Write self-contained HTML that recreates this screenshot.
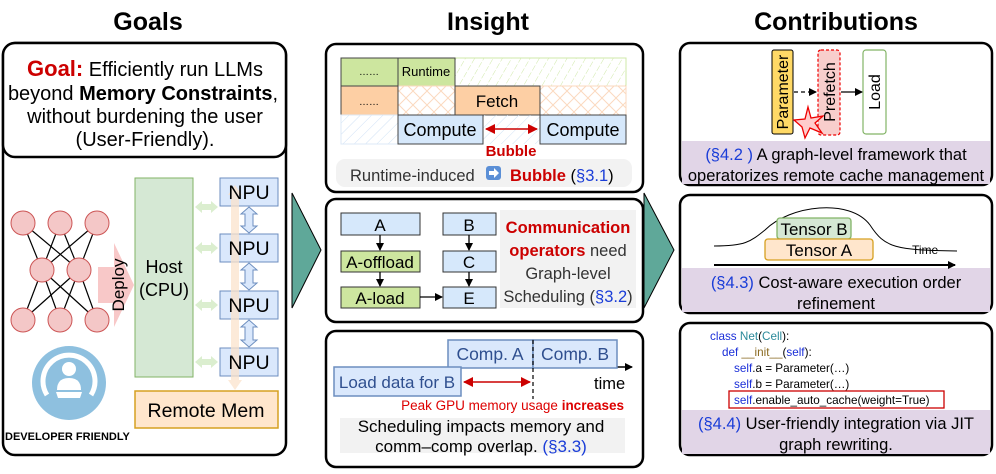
<!DOCTYPE html>
<html><head><meta charset="utf-8"><style>
body{margin:0;background:#fff}
svg{display:block}
text{font-family:"Liberation Sans",sans-serif}
</style></head><body>
<svg width="996" height="474" viewBox="0 0 996 474" xmlns="http://www.w3.org/2000/svg">
<defs>
<marker id="ab" markerWidth="8" markerHeight="8" refX="7" refY="4" orient="auto" markerUnits="userSpaceOnUse"><path d="M0,0 L8,4 L0,8 Z" fill="#000"/></marker>
<marker id="ar" markerWidth="10" markerHeight="10" refX="9" refY="5" orient="auto" markerUnits="userSpaceOnUse"><path d="M0,0 L10,5 L0,10 Z" fill="#c00"/></marker>
<marker id="arl" markerWidth="10" markerHeight="10" refX="1" refY="5" orient="auto" markerUnits="userSpaceOnUse"><path d="M10,0 L0,5 L10,10 Z" fill="#c00"/></marker>
<pattern id="hg" width="8" height="8" patternUnits="userSpaceOnUse" patternTransform="rotate(30)"><line x1="0" y1="0" x2="0" y2="8" stroke="#cfe8a8" stroke-width="1" stroke-dasharray="3,2"/></pattern>
<pattern id="ho" width="14" height="14" patternUnits="userSpaceOnUse"><path d="M0,0 L14,14 M14,0 L0,14" stroke="#fbd9bf" stroke-width="1"/></pattern>
<pattern id="hb" width="8" height="8" patternUnits="userSpaceOnUse" patternTransform="rotate(45)"><line x1="0" y1="0" x2="0" y2="8" stroke="#cfe2f5" stroke-width="1"/></pattern>
</defs>

<text x="148" y="30" font-size="25" font-weight="bold" text-anchor="middle">Goals</text>
<text x="488" y="30" font-size="25" font-weight="bold" text-anchor="middle">Insight</text>
<text x="836" y="30" font-size="25" font-weight="bold" text-anchor="middle">Contributions</text>

<rect x="3" y="43" width="283" height="412" rx="12" fill="#fff" stroke="#000" stroke-width="2.5"/>
<rect x="3" y="43" width="283" height="114" rx="12" fill="#fff" stroke="#000" stroke-width="2.5"/>
<text x="145" y="76" font-size="20" text-anchor="middle"><tspan fill="#c00" font-weight="bold" font-size="22">Goal:</tspan> Efficiently run LLMs</text>
<text x="143" y="100" font-size="20" text-anchor="middle">beyond <tspan font-weight="bold">Memory Constraints</tspan>,</text>
<text x="145" y="123" font-size="20" text-anchor="middle">without burdening the user</text>
<text x="145" y="146" font-size="20" text-anchor="middle">(User-Friendly).</text>

<g stroke="#000" stroke-width="1.2">
<line x1="23" y1="223" x2="42" y2="270"/><line x1="23" y1="223" x2="79" y2="270"/>
<line x1="60" y1="223" x2="42" y2="270"/><line x1="60" y1="223" x2="79" y2="270"/>
<line x1="97" y1="223" x2="42" y2="270"/><line x1="97" y1="223" x2="79" y2="270"/>
<line x1="23" y1="320" x2="42" y2="270"/><line x1="23" y1="320" x2="79" y2="270"/>
<line x1="60" y1="320" x2="42" y2="270"/><line x1="60" y1="320" x2="79" y2="270"/>
<line x1="97" y1="320" x2="42" y2="270"/><line x1="97" y1="320" x2="79" y2="270"/>
</g>
<g fill="#f4c7c7" stroke="#c55" stroke-width="1">
<circle cx="23" cy="223" r="12"/><circle cx="60" cy="223" r="12"/><circle cx="97" cy="223" r="12"/>
<circle cx="42" cy="270" r="12"/><circle cx="79" cy="270" r="12"/>
<circle cx="23" cy="320" r="12"/><circle cx="60" cy="320" r="12"/><circle cx="97" cy="320" r="12"/>
</g>
<path d="M98,267 L114,267 L114,243 L134,285 L114,327 L114,303 L98,303 Z" fill="#f8c8c8"/>
<text transform="translate(124,285) rotate(-90)" font-size="17" text-anchor="middle">Deploy</text>

<rect x="135" y="178" width="58" height="199" fill="#d5e8d4" stroke="#82b366"/>
<text x="164" y="273" font-size="18" text-anchor="middle">Host</text>
<text x="164" y="296" font-size="18" text-anchor="middle">(CPU)</text>

<g fill="#dbeecf">
<path d="M195,207 L202,201 L202,204 L211,204 L211,201 L218,207 L211,213 L211,210 L202,210 L202,213 Z"/>
<path d="M195,248 L202,242 L202,245 L211,245 L211,242 L218,248 L211,254 L211,251 L202,251 L202,254 Z"/>
<path d="M195,305 L202,299 L202,302 L211,302 L211,299 L218,305 L211,311 L211,308 L202,308 L202,311 Z"/>
<path d="M195,362 L202,356 L202,359 L211,359 L211,356 L218,362 L211,368 L211,365 L202,365 L202,368 Z"/>
</g>
<g fill="#dae8fc" stroke="#6c8ebf">
<rect x="220" y="178" width="58" height="28"/>
<rect x="220" y="234" width="58" height="28"/>
<rect x="220" y="291" width="58" height="28"/>
<rect x="220" y="348" width="58" height="28"/>
<path d="M249,207 L257,214 L253,214 L253,226 L257,226 L249,233 L241,226 L245,226 L245,214 L241,214 Z"/>
<path d="M249,263 L257,270 L253,270 L253,283 L257,283 L249,290 L241,283 L245,283 L245,270 L241,270 Z"/>
<path d="M249,320 L257,327 L253,327 L253,340 L257,340 L249,347 L241,340 L245,340 L245,327 L241,327 Z"/>
</g>
<path d="M235,185 L242,195 L239,195 L239,380 L242,380 L235,390 L228,380 L231,380 L231,195 L228,195 Z" fill="#fbe3cc" opacity="0.75"/>
<g font-size="19.5" text-anchor="middle">
<text x="249" y="199">NPU</text><text x="249" y="255">NPU</text><text x="249" y="312">NPU</text><text x="249" y="369">NPU</text>
</g>
<rect x="135" y="391" width="143" height="37" fill="#ffe6cc" stroke="#d6a020" stroke-width="1.5"/>
<text x="206" y="417" font-size="19.5" text-anchor="middle">Remote Mem</text>

<circle cx="69" cy="383" r="37" fill="#8ec0df"/>
<path d="M47,395 A26,26 0 1 1 91,395" fill="none" stroke="#fff" stroke-width="5"/>
<circle cx="69" cy="369" r="7" fill="#fff"/>
<path d="M57,390 Q57,378 69,378 Q81,378 81,390 Z" fill="#fff"/>
<path d="M56,392 L82,392 L80,398 L58,398 Z" fill="#fff"/>
<text x="5" y="440" font-size="11" font-weight="bold">DEVELOPER FRIENDLY</text>

<path d="M292,193 L321,250 L292,308 Z" fill="#5fa899" stroke="#000" stroke-width="1"/>
<path d="M644,193 L674,250 L644,308 Z" fill="#5fa899" stroke="#000" stroke-width="1"/>

<rect x="326" y="44" width="317" height="148" rx="10" fill="#fff" stroke="#000" stroke-width="2.5"/>
<rect x="455" y="58" width="171" height="28" fill="url(#hg)" stroke="#cfe8a8"/>
<rect x="341" y="58" width="57" height="28" fill="#cde69f" stroke="#444"/>
<rect x="398" y="58" width="57" height="28" fill="#cde69f" stroke="#444"/>
<text x="369" y="75" font-size="10" text-anchor="middle">……</text>
<text x="426" y="76" font-size="13" text-anchor="middle">Runtime</text>
<rect x="398" y="86" width="57" height="29" fill="url(#ho)" stroke="#fbd9bf"/>
<rect x="540" y="86" width="86" height="29" fill="url(#ho)" stroke="#fbd9bf"/>
<rect x="341" y="86" width="57" height="29" fill="#fdcfa4" stroke="#444"/>
<rect x="455" y="86" width="85" height="29" fill="#fdcfa4" stroke="#444"/>
<text x="369" y="105" font-size="10" text-anchor="middle">……</text>
<text x="497" y="107" font-size="17" text-anchor="middle">Fetch</text>
<rect x="341" y="115" width="57" height="29" fill="url(#hb)" stroke="#dde9f7"/>
<rect x="483" y="115" width="57" height="29" fill="url(#hb)" stroke="none"/>
<rect x="398" y="115" width="85" height="29" fill="#d6e8fb" stroke="#444"/>
<rect x="540" y="115" width="86" height="29" fill="#d6e8fb" stroke="#444"/>
<text x="440" y="136" font-size="18" text-anchor="middle">Compute</text>
<text x="583" y="136" font-size="18" text-anchor="middle">Compute</text>
<line x1="486" y1="129" x2="537" y2="129" stroke="#c00" stroke-width="1.5" marker-end="url(#ar)" marker-start="url(#arl)"/>
<text x="511" y="156" font-size="15" font-weight="bold" fill="#c00" text-anchor="middle">Bubble</text>
<rect x="336" y="159" width="296" height="28" rx="9" fill="#f2f2f2"/>
<text x="350" y="181" font-size="16.5" fill="#333">Runtime-induced</text>
<rect x="486" y="166" width="15" height="14" rx="3" fill="#5b8fd6"/>
<path d="M489,171 L494,171 L494,168 L499,173 L494,178 L494,175 L489,175 Z" fill="#fff"/>
<text x="510" y="181" font-size="16.5"><tspan fill="#c00" font-weight="bold">Bubble</tspan> (<tspan fill="#1a3dd8">§3.1</tspan>)</text>

<rect x="326" y="199" width="317" height="123" rx="10" fill="#fff" stroke="#000" stroke-width="2.5"/>
<rect x="500" y="210" width="136" height="98" fill="#f2f2f2"/>
<g stroke="#333">
<rect x="341" y="213" width="79" height="22" fill="#d6e8fb"/>
<rect x="341" y="251" width="79" height="21" fill="#cde69f"/>
<rect x="341" y="287" width="79" height="21" fill="#cde69f"/>
<rect x="443" y="213" width="53" height="22" fill="#d6e8fb"/>
<rect x="443" y="251" width="53" height="21" fill="#d6e8fb"/>
<rect x="443" y="287" width="53" height="21" fill="#d6e8fb"/>
</g>
<g font-size="17" text-anchor="middle">
<text x="380" y="231">A</text><text x="380" y="268">A-offload</text><text x="380" y="304">A-load</text>
<text x="469" y="231">B</text><text x="469" y="268">C</text><text x="469" y="304">E</text>
</g>
<g stroke="#000" stroke-width="1.3" marker-end="url(#ab)">
<line x1="380" y1="235" x2="380" y2="250"/><line x1="380" y1="272" x2="380" y2="286"/>
<line x1="469" y1="235" x2="469" y2="250"/><line x1="469" y1="272" x2="469" y2="286"/>
<line x1="420" y1="297" x2="442" y2="297"/>
</g>
<text x="568" y="233" font-size="16.5" font-weight="bold" fill="#c00" text-anchor="middle">Communication</text>
<text x="568" y="256" font-size="16.5" text-anchor="middle" fill="#333"><tspan fill="#c00" font-weight="bold">operators</tspan> need</text>
<text x="568" y="279" font-size="16.5" text-anchor="middle" fill="#333">Graph-level</text>
<text x="568" y="302" font-size="16.5" text-anchor="middle" fill="#333">Scheduling (<tspan fill="#1a3dd8">§3.2</tspan>)</text>

<rect x="326" y="331" width="317" height="136" rx="10" fill="#fff" stroke="#000" stroke-width="2.5"/>
<line x1="617" y1="367" x2="632" y2="367" stroke="#000" stroke-width="1.5" marker-end="url(#ab)"/>
<rect x="448" y="340" width="85" height="28" fill="#dae8fc" stroke="#6c8ebf" stroke-width="1.5"/>
<rect x="533" y="340" width="84" height="28" fill="#dae8fc" stroke="#6c8ebf" stroke-width="1.5"/>
<rect x="334" y="367" width="127" height="29" fill="#dae8fc" stroke="#6c8ebf" stroke-width="1.5"/>
<text x="490" y="360" font-size="17.5" fill="#2f4f8f" text-anchor="middle">Comp. A</text>
<text x="575" y="360" font-size="17.5" fill="#2f4f8f" text-anchor="middle">Comp. B</text>
<text x="397" y="388" font-size="17" fill="#2f4f8f" text-anchor="middle">Load data for B</text>
<line x1="533" y1="340" x2="533" y2="399" stroke="#000" stroke-width="1.2" stroke-dasharray="4,3"/>
<line x1="464" y1="382" x2="530" y2="382" stroke="#c00" stroke-width="1.5" marker-end="url(#ar)" marker-start="url(#arl)"/>
<text x="594" y="389" font-size="16.5">time</text>
<text x="624" y="410" font-size="13.5" fill="#d00" text-anchor="end">Peak GPU memory usage <tspan font-weight="bold">increases</tspan></text>
<rect x="340" y="418" width="285" height="35" fill="#f2f2f2"/>
<text x="481" y="432" font-size="17" text-anchor="middle">Scheduling impacts memory and</text>
<text x="481" y="452" font-size="17" text-anchor="middle">comm–comp overlap. <tspan fill="#1a3dd8">(§3.3)</tspan></text>

<rect x="680" y="43" width="312" height="142" rx="10" fill="#fff" stroke="#000" stroke-width="2.5"/>
<rect x="682" y="141" width="308" height="43" fill="#e1d5e7"/>
<rect x="772" y="50" width="21" height="84" rx="2" fill="#ffd966" stroke="#000"/>
<rect x="818" y="50" width="22" height="85" rx="3" fill="#f8cecc" stroke="#e00" stroke-dasharray="3,2" stroke-width="1.2"/>
<rect x="863" y="50" width="23" height="84" rx="3" fill="#fff" stroke="#82b366" stroke-width="1.2"/>
<line x1="794" y1="92" x2="816" y2="92" stroke="#000" stroke-width="1.3" stroke-dasharray="4,3" marker-end="url(#ab)"/>
<line x1="841" y1="92" x2="862" y2="92" stroke="#000" stroke-width="1.3" marker-end="url(#ab)"/>
<path d="M808,107 L811,118 L823,116 L815,123 L822,133 L810,128 L805,138 L802,127 L794,120 L805,119 Z" fill="#fcc" stroke="#e00" stroke-width="1.3"/>
<text transform="translate(788,92) rotate(-90)" font-size="16" text-anchor="middle">Parameter</text>
<text transform="translate(835,92) rotate(-90)" font-size="16" text-anchor="middle">Prefetch</text>
<text transform="translate(880,92) rotate(-90)" font-size="16" text-anchor="middle">Load</text>
<text x="836" y="160" font-size="16.5" text-anchor="middle"><tspan fill="#1a3dd8">(§4.2 )</tspan> A graph-level framework that</text>
<text x="836" y="181" font-size="16.5" text-anchor="middle">operatorizes remote cache management</text>

<rect x="680" y="195" width="312" height="118" rx="10" fill="#fff" stroke="#000" stroke-width="2.5"/>
<rect x="682" y="268" width="308" height="44" fill="#e1d5e7"/>
<path d="M714,246 C745,246 750,242 765,230 C790,205 850,198 870,225 C885,248 895,250 957,251" fill="none" stroke="#000" stroke-width="1"/>
<rect x="777" y="218" width="74" height="21" rx="3" fill="#d5e8d4" stroke="#82b366" stroke-width="1.3"/>
<rect x="765" y="239" width="108" height="21" rx="3" fill="#ffe6cc" stroke="#d6a020" stroke-width="1.3"/>
<text x="814" y="235" font-size="17" text-anchor="middle">Tensor B</text>
<text x="819" y="256" font-size="17" text-anchor="middle">Tensor A</text>
<text x="912" y="254" font-size="12">Time</text>
<line x1="714" y1="265" x2="955" y2="265" stroke="#000" stroke-width="2" marker-end="url(#ab)"/>
<text x="836" y="288" font-size="16.5" text-anchor="middle"><tspan fill="#1a3dd8">(§4.3)</tspan> Cost-aware execution order</text>
<text x="836" y="309" font-size="16.5" text-anchor="middle">refinement</text>

<rect x="680" y="323" width="312" height="132" rx="10" fill="#fff" stroke="#000" stroke-width="2.5"/>
<rect x="682" y="410" width="308" height="44" fill="#e1d5e7"/>
<g font-size="11.7">
<text x="710" y="340"><tspan fill="#1a2ed8">class</tspan> <tspan fill="#2b8a9a">Net</tspan>(<tspan fill="#2b8a9a">Cell</tspan>):</text>
<text x="722" y="356"><tspan fill="#1a2ed8">def</tspan> <tspan fill="#8a6a20">__init__</tspan>(<tspan fill="#1a2ed8">self</tspan>):</text>
<text x="734" y="372"><tspan fill="#1a2ed8">self</tspan>.a = Parameter(…)</text>
<text x="734" y="388"><tspan fill="#1a2ed8">self</tspan>.b = Parameter(…)</text>
<text x="734" y="404"><tspan fill="#1a2ed8">self</tspan>.enable_auto_cache(weight=True)</text>
</g>
<rect x="729" y="391" width="215" height="17" fill="none" stroke="#c00" stroke-width="1.3"/>
<text x="836" y="429" font-size="16.5" text-anchor="middle"><tspan fill="#1a3dd8">(§4.4)</tspan> User-friendly integration via JIT</text>
<text x="836" y="450" font-size="16.5" text-anchor="middle">graph rewriting.</text>
</svg>
</body></html>
